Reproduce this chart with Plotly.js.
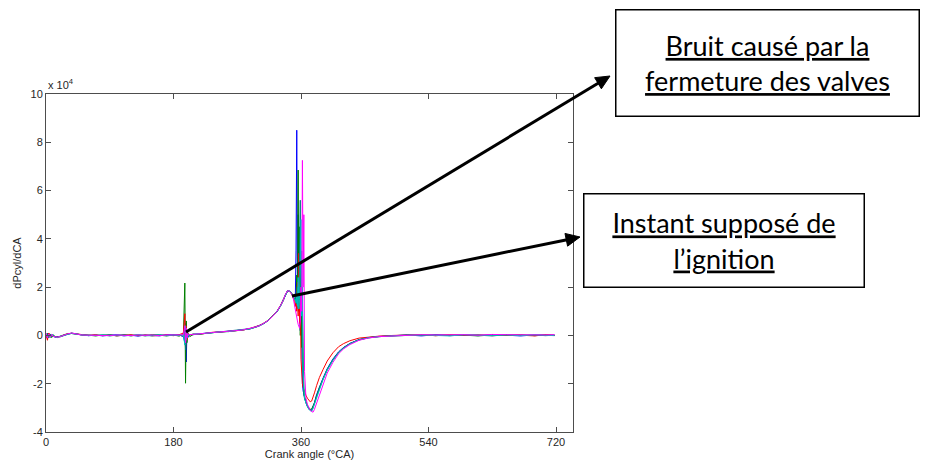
<!DOCTYPE html>
<html>
<head>
<meta charset="utf-8">
<script src="https://cdn.plot.ly/plotly-3.0.1.min.js"></script>
<style>html,body{margin:0;padding:0;background:#fff;}#chart{width:925px;height:464px;}</style>
</head>
<body>
<div id="chart"></div>
<script>
// Crank angle grid (°CA)
const crankAngle = [0,2,4,6,8,10,13,16,20,25,30,36,42,50,60,70,80,90,100,110,120,130,140,150,160,170,180,
  188,194,196,197,198,199,200,203,208,215,
  225,235,246,258,268,278,288,296,302,308,314,320,326,331,335,338,341,344,347,349,
  351,352,353,354,355,356,357,358,359,360,361,362,363,364,365,367,369,371,373,375,377,379,
  382,386,391,397,405,413,420,429,442,455,470,490,510,530,550,570,590,610,630,650,670,690,705,718];

// dPcyl/dCA values, in units of 10^4
const cycleBlue = [0.06,-0.12,0.08,-0.05,0.03,-0.04,-0.07,-0.06,-0.04,0.01,0.05,0.09,0.06,0.02,-0.01,0.02,-0.02,0.01,0.03,-0.02,0.01,-0.03,0.02,0.00,-0.02,0.03,0.01,
  0.02,-0.05,-0.3,0.5,-1.1,0.2,-0.1,0.04,0.03,0.06,
  0.1,0.12,0.14,0.17,0.2,0.23,0.28,0.35,0.42,0.5,0.63,0.8,1.0,1.23,1.46,1.7,1.85,1.83,1.72,1.58,
  1.5,1.6,3.5,8.5,2.0,5.0,1.0,4.0,0.2,2.5,-1.0,-2.0,-2.3,-2.45,-2.6,-2.78,-2.92,-3.02,-3.08,-3.1,-2.97,-2.78,
  -2.45,-2.12,-1.78,-1.38,-0.98,-0.68,-0.5,-0.33,-0.17,-0.09,-0.04,-0.01,0.02,-0.02,0.03,0.0,0.02,-0.01,0.03,0.01,-0.02,0.02,0.0,0.01];
const cycleGreen = [-0.08,0.1,-0.06,0.04,-0.09,0.02,-0.05,-0.08,-0.03,0.02,0.07,0.08,0.05,0.03,0.01,-0.02,0.02,-0.01,0.0,0.03,-0.02,0.02,-0.01,0.03,0.01,-0.02,0.02,
  -0.03,0.05,2.17,-1.98,0.6,-0.3,0.12,-0.05,0.04,0.05,
  0.09,0.11,0.15,0.16,0.19,0.24,0.27,0.34,0.41,0.51,0.62,0.79,0.98,1.22,1.44,1.68,1.83,1.84,1.74,1.62,
  1.5,1.55,1.4,2.5,1.2,6.85,1.0,4.5,0.0,3.0,-0.5,1.2,-2.0,-2.4,-2.55,-2.75,-2.9,-3.0,-3.06,-3.05,-2.94,-2.8,
  -2.5,-2.16,-1.82,-1.42,-1.02,-0.7,-0.52,-0.34,-0.18,-0.1,-0.05,-0.02,0.01,0.02,-0.01,0.02,0.01,-0.02,0.02,0.0,0.03,-0.01,0.02,0.0];
const cycleRed = [0.05,-0.2,0.1,-0.08,0.05,-0.03,-0.05,-0.07,-0.05,0.02,0.06,0.09,0.06,0.02,0.0,0.03,-0.01,0.02,-0.02,0.01,0.03,-0.01,0.02,-0.02,0.0,0.02,-0.01,
  0.03,0.1,0.9,-0.54,0.4,-0.2,0.08,0.02,0.05,0.04,
  0.1,0.13,0.14,0.18,0.21,0.22,0.29,0.36,0.42,0.52,0.64,0.81,0.99,1.24,1.47,1.71,1.86,1.82,1.7,1.55,
  1.4,1.2,1.5,1.0,2.2,0.8,3.4,0.5,2.0,-1.0,-1.8,-2.0,-2.15,-2.25,-2.35,-2.48,-2.6,-2.67,-2.75,-2.72,-2.58,-2.38,
  -2.08,-1.74,-1.42,-1.06,-0.72,-0.47,-0.34,-0.22,-0.11,-0.06,-0.03,0.0,0.01,0.03,-0.01,0.02,0.0,0.03,-0.01,0.02,0.01,-0.02,0.03,0.0];
const cycleTeal = [-0.05,0.08,-0.1,0.06,-0.04,0.03,-0.08,-0.05,-0.06,0.0,0.05,0.1,0.07,0.01,0.02,-0.01,0.01,0.03,-0.02,0.02,0.0,0.02,-0.02,0.01,0.03,-0.01,0.0,
  0.01,-0.03,0.3,-0.6,0.2,-0.1,0.05,0.02,0.06,0.05,
  0.08,0.12,0.13,0.17,0.2,0.24,0.28,0.34,0.4,0.5,0.63,0.8,0.97,1.21,1.45,1.69,1.84,1.83,1.73,1.6,
  1.52,1.45,1.6,1.3,2.0,1.1,1.4,3.0,5.6,1.0,3.5,-1.0,-2.2,-2.45,-2.62,-2.8,-2.95,-3.05,-3.1,-3.12,-3.0,-2.82,
  -2.5,-2.15,-1.8,-1.4,-1.0,-0.7,-0.51,-0.34,-0.18,-0.09,-0.05,-0.01,0.02,0.0,0.03,-0.01,0.02,0.01,-0.02,0.03,0.0,0.02,-0.01,0.01];
const cycleCyan = [0.08,-0.06,0.04,-0.09,0.06,-0.02,-0.06,-0.09,-0.04,0.01,0.04,0.08,0.07,0.03,-0.01,0.01,0.02,-0.02,0.02,0.0,-0.01,0.03,0.01,-0.02,0.02,0.0,0.02,
  0.0,0.04,-0.4,0.4,-0.2,0.1,-0.05,0.03,0.05,0.06,
  0.09,0.11,0.15,0.16,0.2,0.23,0.27,0.35,0.41,0.51,0.63,0.8,0.98,1.22,1.45,1.69,1.85,1.84,1.73,1.6,
  1.48,1.5,1.35,1.6,1.2,2.4,1.1,1.5,2.8,4.8,0.8,2.0,-1.5,-2.4,-2.6,-2.8,-2.96,-3.06,-3.12,-3.14,-3.02,-2.85,
  -2.55,-2.2,-1.84,-1.44,-1.04,-0.72,-0.53,-0.35,-0.19,-0.1,-0.05,-0.02,0.01,0.02,0.0,-0.02,0.03,0.01,0.0,0.02,-0.01,0.03,0.01,-0.01];
const cycleMagenta = [0.1,-0.1,0.06,-0.07,0.05,-0.04,-0.06,-0.07,-0.05,0.01,0.06,0.1,0.07,0.02,0.01,0.0,0.02,-0.01,0.02,0.01,-0.01,0.02,0.0,0.02,-0.01,0.02,0.01,
  0.02,0.03,0.4,-0.3,0.3,-0.1,0.06,0.03,0.05,0.06,
  0.09,0.12,0.14,0.17,0.2,0.23,0.28,0.35,0.41,0.5,0.62,0.79,0.99,1.23,1.45,1.7,1.85,1.83,1.73,1.55,
  1.28,1.1,0.92,0.76,0.6,0.46,0.36,0.3,0.6,2.0,1.0,7.25,2.0,5.0,-1.5,-2.6,-2.85,-3.0,-3.1,-3.15,-3.18,-3.06,
  -2.82,-2.42,-2.02,-1.56,-1.12,-0.76,-0.56,-0.38,-0.2,-0.11,-0.05,-0.02,0.01,0.03,0.02,0.04,0.03,0.01,0.04,0.03,0.02,0.04,0.02,0.03];

const seriesList = [cycleBlue, cycleGreen, cycleRed, cycleTeal, cycleCyan, cycleMagenta];
const seriesColors = ['#0000ff', '#008000', '#ff0000', '#008080', '#00bfbf', '#ff00ff'];

const xTicks = [0, 180, 360, 540, 720];
const yTicks = [-4, -2, 0, 2, 4, 6, 8, 10];
const yTickLabels = ['-4', '-2', '0', '2', '4', '6', '8', '10'];

const traces = seriesList.map((ys, i) => ({
  type: 'scatter', mode: 'lines', x: crankAngle, y: ys,
  line: {color: seriesColors[i], width: 1}, hoverinfo: 'skip'
}));

// Layout geometry (pixels)
const M = {l: 46, r: 352, t: 94, b: 32};
const W = 925, H = 464;
const PW = W - M.l - M.r, PH = H - M.t - M.b;
const px2paperX = px => (px - M.l) / PW;
const px2paperY = py => (H - M.b - py) / PH;

// Arrow callouts: tail pixel -> head pixel
function arrowShapes(tail, head) {
  const dx = head[0] - tail[0], dy = head[1] - tail[1];
  const len = Math.hypot(dx, dy), ux = dx / len, uy = dy / len;
  const hl = 14, hw = 6.5;
  const bx = head[0] - ux * hl, by = head[1] - uy * hl;
  const p1 = [bx - uy * hw, by + ux * hw], p2 = [bx + uy * hw, by - ux * hw];
  const P = p => px2paperX(p[0]) + ',' + px2paperY(p[1]);
  return [
    {type: 'line', xref: 'paper', yref: 'paper', x0: px2paperX(tail[0]), y0: px2paperY(tail[1]),
     x1: px2paperX(bx + ux * 2), y1: px2paperY(by + uy * 2), line: {color: '#000', width: 3}},
    {type: 'path', xref: 'paper', yref: 'paper', path: 'M' + P(head) + 'L' + P(p1) + 'L' + P(p2) + 'Z',
     fillcolor: '#000', line: {color: '#000', width: 1}}
  ];
}

const axisFont = {family: 'Liberation Sans, Arial, sans-serif', size: 11, color: '#262626'};
const boxFont = {family: 'Lato, Open Sans, sans-serif', size: 27, color: '#000'};

const layout = {
  width: W, height: H,
  margin: M,
  paper_bgcolor: '#fff', plot_bgcolor: '#fff',
  showlegend: false,
  xaxis: {
    range: [0, 744], tickvals: xTicks, ticktext: xTicks.map(String),
    ticks: 'inside', ticklen: 5, tickcolor: '#4d4d4d', showline: true, linecolor: '#4d4d4d',
    linewidth: 1, mirror: 'ticks', showgrid: false, zeroline: false, tickfont: axisFont,
    title: {text: 'Crank angle (°CA)', font: axisFont, standoff: 2}
  },
  yaxis: {
    range: [-4, 10], tickvals: yTicks, ticktext: yTickLabels,
    ticks: 'inside', ticklen: 5, tickcolor: '#4d4d4d', showline: true, linecolor: '#4d4d4d',
    linewidth: 1, mirror: 'ticks', showgrid: false, zeroline: false, tickfont: axisFont,
    title: {text: 'dPcyl/dCA', font: axisFont, standoff: 6}
  },
  shapes: [].concat(
    arrowShapes([186, 332], [610, 76]),
    arrowShapes([292, 296], [580, 237])
  ),
  annotations: [
    {xref: 'paper', yref: 'paper', x: 0, y: 1, xanchor: 'left', yanchor: 'bottom', yshift: 1,
     text: 'x 10<sup>4</sup>', showarrow: false, font: axisFont},
    {xref: 'paper', yref: 'paper', x: px2paperX(767.5), y: px2paperY(63), xanchor: 'center', yanchor: 'middle',
     text: '<u>Bruit causé par la</u><br><u>fermeture des valves</u>', showarrow: false,
     width: 302, height: 105, borderpad: 0, bordercolor: '#000', borderwidth: 1.5, bgcolor: '#fff', font: boxFont},
    {xref: 'paper', yref: 'paper', x: px2paperX(724), y: px2paperY(240.5), xanchor: 'center', yanchor: 'middle',
     text: '<u>Instant supposé de</u><br><u>l\u2019ignition</u>', showarrow: false,
     width: 279, height: 92, borderpad: 0, bordercolor: '#000', borderwidth: 1.5, bgcolor: '#fff', font: boxFont}
  ]
};

Plotly.newPlot('chart', traces, layout, {staticPlot: true, displayModeBar: false});
</script>
</body>
</html>
